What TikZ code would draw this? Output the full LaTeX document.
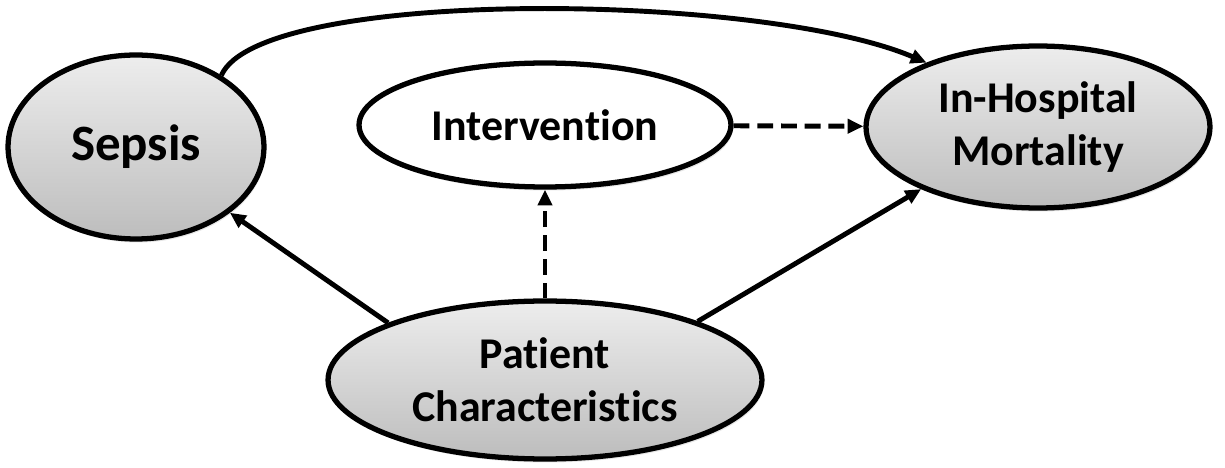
\documentclass[tikz,border=0pt]{standalone}
\usepackage{fontspec}
\setmainfont[Ligatures=NoCommon]{Carlito}
\usetikzlibrary{arrows.meta,shapes.geometric,shadows}

\begin{document}
\begin{tikzpicture}
  [x=0.02cm,y=0.02cm,line width=2.8pt,
   every node/.style={ellipse,draw,line width=3pt,inner sep=0pt,align=center,
     font=\fontsize{25}{30}\selectfont\bfseries,
     drop shadow={opacity=0.2,shadow xshift=1pt,shadow yshift=-2pt}},
   grey/.style={top color=black!7,bottom color=black!26},
   link/.style={-{Triangle[length=9pt,width=8pt]}},
   maybe/.style={link,dash pattern=on 9pt off 4.5pt}]
  \useasboundingbox (0,0) rectangle (1225,467);
  \node[grey,minimum width=5.12cm,minimum height=3.68cm,
    font=\fontsize{29}{34}\selectfont\bfseries] (sepsis) at (136,320) {Sepsis};
  \node[fill=white,minimum width=7.44cm,minimum height=2.48cm] (interv) at (545,342) {Intervention};
  \node[grey,minimum width=6.88cm,minimum height=3.24cm] (mort) at (1038,340) {In-Hospital\\Mortality};
  \node[grey,minimum width=8.68cm,minimum height=3.16cm] (patient) at (545,87) {Patient\\Characteristics};

  \draw[link] (sepsis.40) .. controls (260,480) and (760,475) .. (mort.150);
  \foreach \from/\to in {patient.160/sepsis.-35,patient.21/mort.208}
    \draw[link] (\from) -- (\to);
  \foreach \from/\to in {interv/mort,patient/interv}
    \draw[maybe] (\from) -- (\to);

\end{tikzpicture}
\end{document}
